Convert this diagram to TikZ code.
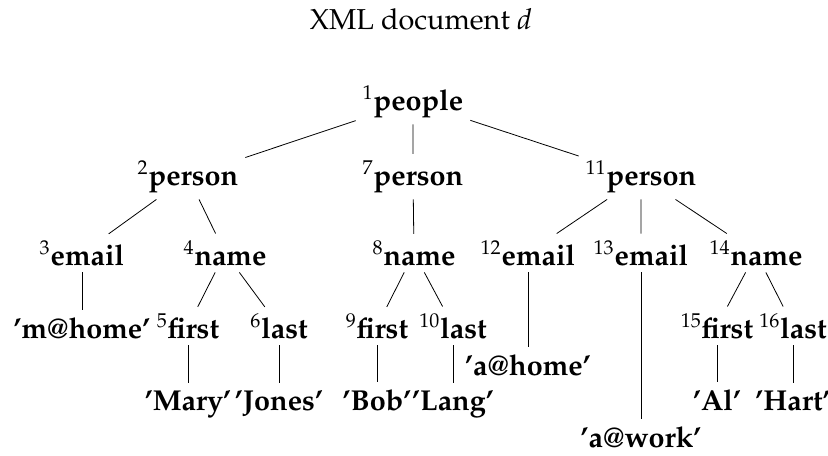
\documentclass[tikz,border=0pt]{standalone}
\usepackage[T1]{fontenc}
\usepackage{mathpazo}

\begin{document}
\begin{tikzpicture}[x=0.5pt, y=-0.5pt,
          every node/.style = {font=\Large, anchor=base},
          tag/.style = {font=\Large\bfseries}
          ]
          \useasboundingbox (0,0) rectangle (828,455);
          \node (title) at (421,29) {XML document $d$};
          % elements
          \node[tag] (people) at (413,110) {$^{1}$people};
          \node[tag] (p2)  at (188,185) {$^{2}$person};
          \node[tag] (p7)  at (413,185) {$^{7}$person};
          \node[tag] (p11) at (641,185) {$^{11}$person};
          \node[tag] (e3)  at (82,265)  {$^{3}$email};
          \node[tag] (n4)  at (225,265) {$^{4}$name};
          \node[tag] (n8)  at (414,265) {$^{8}$name};
          \node[tag] (e12) at (528,265) {$^{12}$email};
          \node[tag] (e13) at (641,265) {$^{13}$email};
          \node[tag] (n14) at (756,265) {$^{14}$name};
          \node[tag] (f5)  at (188,338) {$^{5}$first};
          \node[tag] (l6)  at (279,338) {$^{6}$last};
          \node[tag] (f9)  at (377,338) {$^{9}$first};
          \node[tag] (l10) at (453,338) {$^{10}$last};
          \node[tag] (f15) at (717,338) {$^{15}$first};
          \node[tag] (l16) at (793,338) {$^{16}$last};
          % values
          \node[tag] (mhome) at (82,338)  {'m@home'};
          \node[tag] (ahome) at (528,375) {'a@home'};
          \node[tag] (awork) at (641,447) {'a@work'};
          \node[tag] (mary)  at (188,410) {'Mary'};
          \node[tag] (jones) at (279,410) {'Jones'};
          \node[tag] (bob)   at (377,410) {'Bob'};
          \node[tag] (lang)  at (453,410) {'Lang'};
          \node[tag] (al)    at (717,410) {'Al'};
          \node[tag] (hart)  at (793,410) {'Hart'};
          % edges
          \draw (people) -- (p2) (people) -- (p7) (people) -- (p11);
          \draw (p2) -- (e3) (p2) -- (n4);
          \draw (p7) -- (n8);
          \draw (p11) -- (e12) (p11) -- (e13) (p11) -- (n14);
          \draw (e3) -- (mhome);
          \draw (n4) -- (f5) (n4) -- (l6);
          \draw (n8) -- (f9) (n8) -- (l10);
          \draw (e12) -- (ahome);
          \draw (e13) -- (awork);
          \draw (n14) -- (f15) (n14) -- (l16);
          \draw (f5) -- (mary) (l6) -- (jones);
          \draw (f9) -- (bob) (l10) -- (lang);
          \draw (f15) -- (al) (l16) -- (hart);
\end{tikzpicture}
\end{document}
